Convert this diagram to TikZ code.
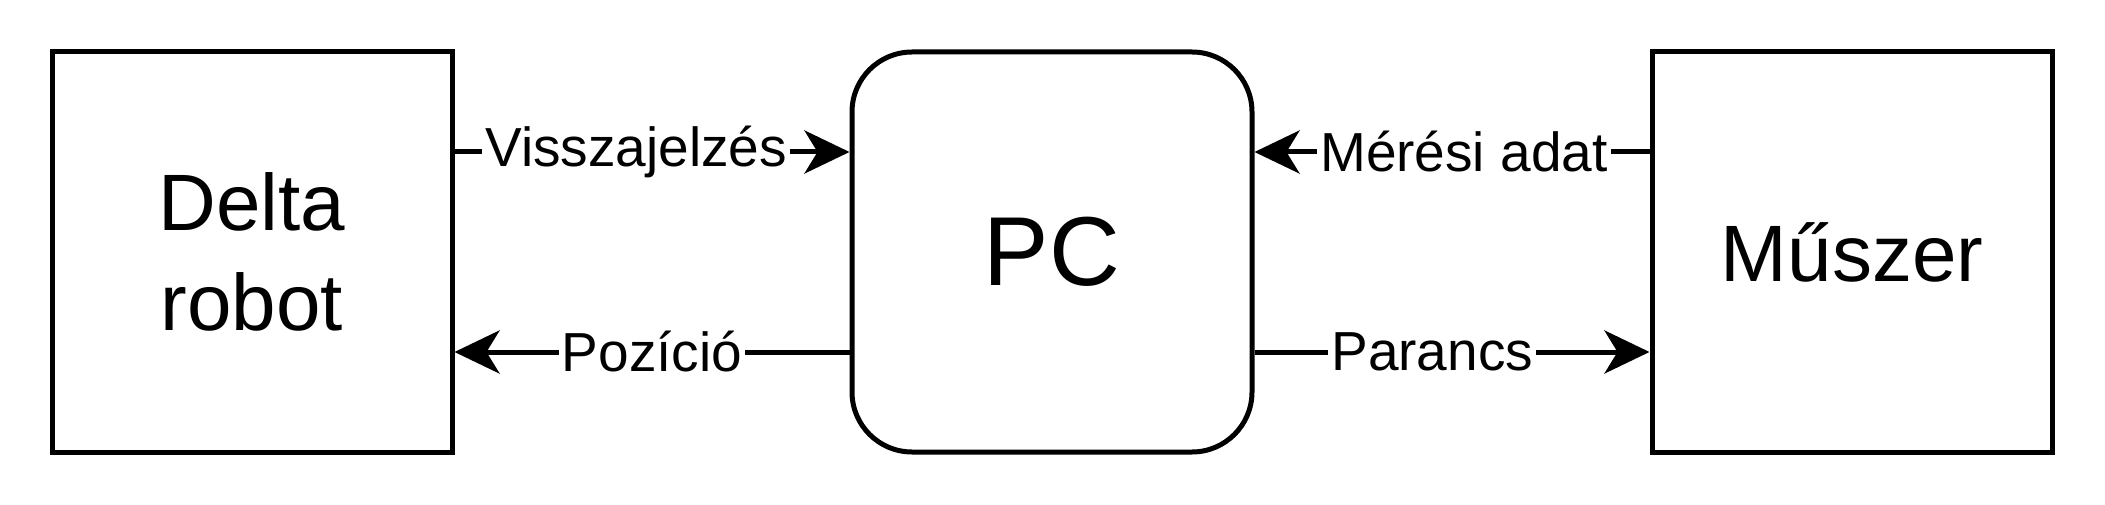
\documentclass[tikz,border=0pt]{standalone}
\usepackage{fontspec}
\setmainfont{Liberation Sans}
\usetikzlibrary{arrows.meta}
\begin{document}
\begin{tikzpicture}[x=1pt,y=1pt,line width=5pt,
  block/.style={draw,minimum width=400pt,minimum height=400pt,align=center,
    font=\fontsize{80}{100}\selectfont},
  flow/.style={-{Stealth[length=45pt,width=43pt,inset=13pt]}},
  lbl/.style={fill=white,inner sep=3pt,font=\fontsize{55}{66}\selectfont}]
\useasboundingbox (0,0) rectangle (2105,-505);
\node[block] (delta) at (252,-252) {Delta\\robot};
\node[block,rounded corners=60pt,font=\fontsize{98}{118}\selectfont] (pc) at (1052,-252) {PC};
\node[block] (muszer) at (1852,-252) {Műszer};
\draw[flow] ([yshift=100pt]delta.east) -- node[lbl,pos=0.46] {Visszajelzés} ([yshift=100pt]pc.west);
\draw[flow] ([yshift=-100pt]pc.west) -- node[lbl] {Pozíció} ([yshift=-100pt]delta.east);
\draw[flow] ([yshift=100pt]muszer.west) -- node[lbl,pos=0.47] {Mérési adat} ([yshift=100pt]pc.east);
\draw[flow] ([yshift=-100pt]pc.east) -- node[lbl,pos=0.45] {Parancs} ([yshift=-100pt]muszer.west);
\end{tikzpicture}
\end{document}
